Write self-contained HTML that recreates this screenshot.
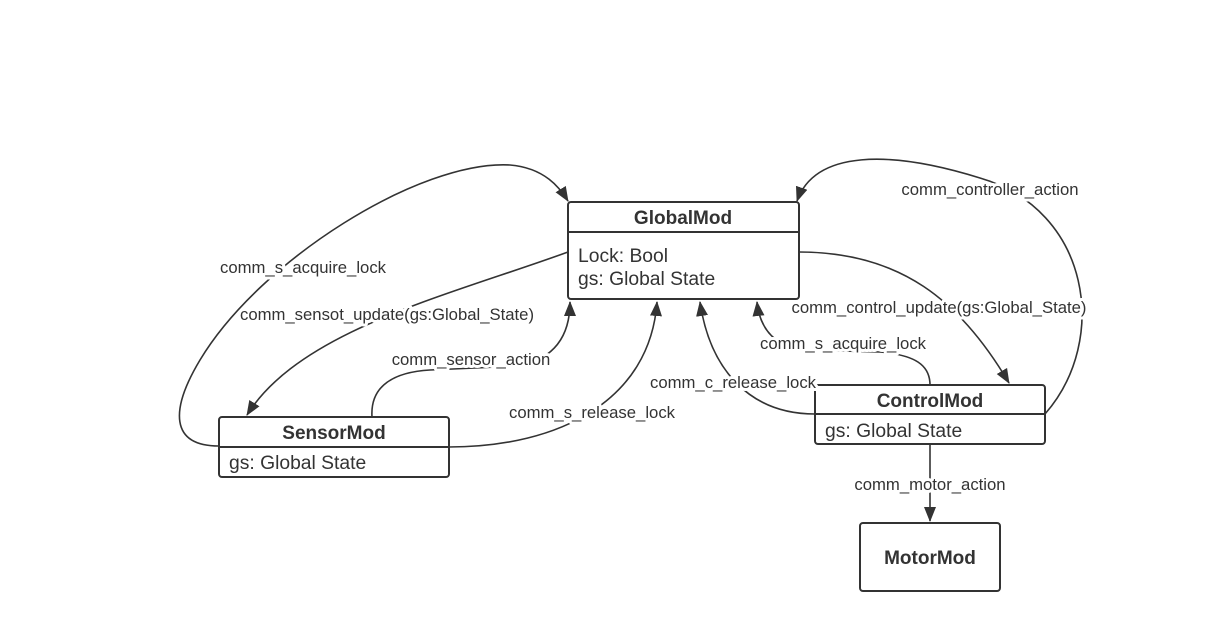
<!DOCTYPE html>
<html><head><meta charset="utf-8"><style>
html,body{margin:0;padding:0;background:#fff;}
svg{display:block;}
text{font-family:"Liberation Sans","Noto Sans CJK SC",sans-serif;fill:#333;}
.lbl{font-size:16.7px;text-anchor:middle;paint-order:stroke;stroke:#fff;stroke-width:6px;stroke-linejoin:round;}
.ttl{font-size:19px;font-weight:bold;text-anchor:middle;}
.att{font-size:19.3px;}
.e{fill:none;stroke:#333;stroke-width:1.6;}
.b{fill:#fff;stroke:#333;stroke-width:2;}
</style></head><body>
<svg width="1219" height="623" viewBox="0 0 1219 623">
<defs>
<marker id="a" markerWidth="16" markerHeight="14" refX="14" refY="6" orient="auto" markerUnits="userSpaceOnUse">
<path d="M0,0 L15,6 L0,12 Z" fill="#333"/>
</marker>
</defs>
<path class="e" marker-end="url(#a)" d="M219,446 C170,446 170,410 200,360 C260,260 420,160 510,165 C545,168 560,188 568,201"/>
<path class="e" marker-end="url(#a)" d="M568,252 C450,295 300,330 247,415"/>
<path class="e" marker-end="url(#a)" d="M372,417 C370,385 395,372 430,370 L520,366 C555,358 570,335 570,302"/>
<path class="e" marker-end="url(#a)" d="M449,447 C560,447 650,400 657,302"/>
<path class="e" marker-end="url(#a)" d="M1045,414 C1110,340 1090,210 980,178 C890,150 815,150 797,201"/>
<path class="e" marker-end="url(#a)" d="M799,252 C900,252 960,300 1009,383"/>
<path class="e" marker-end="url(#a)" d="M930,385 C930,365 915,355 880,352 L800,350 C775,345 760,330 757,302"/>
<path class="e" marker-end="url(#a)" d="M815,414 C750,414 710,370 700,302"/>
<path class="e" marker-end="url(#a)" d="M930,444 L930,521"/>
<rect class="b" x="568" y="202" width="231" height="97" rx="3"/>
<line x1="568" y1="232" x2="799" y2="232" stroke="#333" stroke-width="2"/>
<text class="ttl" x="683" y="224">GlobalMod</text>
<text class="att" x="578" y="262">Lock: Bool</text>
<text class="att" x="578" y="285">gs: Global State</text>
<rect class="b" x="219" y="417" width="230" height="60" rx="3"/>
<line x1="219" y1="447" x2="449" y2="447" stroke="#333" stroke-width="2"/>
<text class="ttl" x="334" y="439">SensorMod</text>
<text class="att" x="229" y="469">gs: Global State</text>
<rect class="b" x="815" y="385" width="230" height="59" rx="3"/>
<line x1="815" y1="414" x2="1045" y2="414" stroke="#333" stroke-width="2"/>
<text class="ttl" x="930" y="407">ControlMod</text>
<text class="att" x="825" y="437">gs: Global State</text>
<rect class="b" x="860" y="523" width="140" height="68" rx="3"/>
<text class="ttl" x="930" y="564">MotorMod</text>
<text class="lbl" x="303" y="273">comm_s_acquire_lock</text>
<text class="lbl" x="387" y="320">comm_sensot_update(gs:Global_State)</text>
<text class="lbl" x="471" y="365">comm_sensor_action</text>
<text class="lbl" x="592" y="418">comm_s_release_lock</text>
<text class="lbl" x="990" y="195">comm_controller_action</text>
<text class="lbl" x="939" y="313">comm_control_update(gs:Global_State)</text>
<text class="lbl" x="843" y="349">comm_s_acquire_lock</text>
<text class="lbl" x="733" y="388">comm_c_release_lock</text>
<text class="lbl" x="930" y="490">comm_motor_action</text>
</svg>
</body></html>
